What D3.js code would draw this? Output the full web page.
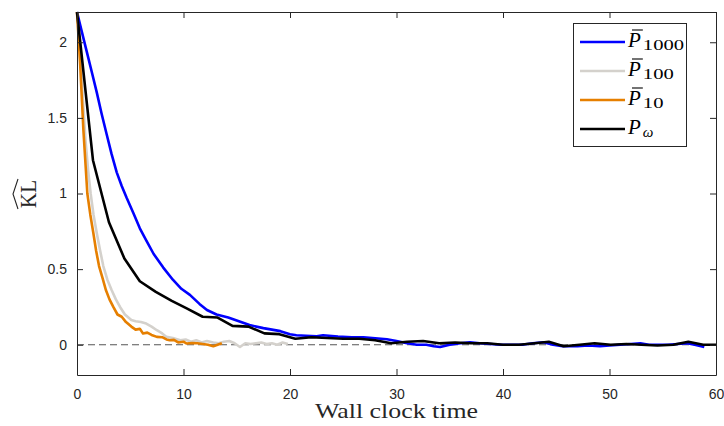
<!DOCTYPE html>
<html>
<head>
<meta charset="utf-8">
<script src="https://cdn.jsdelivr.net/npm/d3@7"></script>
<style>
  body { margin: 0; background: #fff; }
  .tick text { font-family: "Liberation Sans", Arial, sans-serif; font-size: 14px; fill: #262626; }
</style>
</head>
<body>
<svg class="chart"></svg>
<script>
const svgWidth = 724;
const svgHeight = 426;

// P_1000 (blue)
const blueT = [0, 0.45, 0.91, 1.4, 1.85, 2.3, 2.79, 3.25, 3.73, 4.2, 4.67, 5.3, 5.9, 6.5, 7.2, 8.1, 9.0, 9.8, 10.6, 11.5, 12.2, 13.1, 14.2, 15.2, 16.2, 17.5, 18.3, 19.1, 20.0, 20.6, 21.5, 22.5, 23.1, 24.5, 25.8, 26.9, 28.0, 29.1, 30.0, 31.0, 31.9, 32.8, 33.5, 34.1, 35.0, 36.0, 36.9, 37.8, 38.8, 39.8, 40.7, 41.8, 42.8, 43.8, 44.7, 45.6, 47.0, 48.0, 49.1, 50.0, 51.0, 52.0, 52.9, 53.7, 54.5, 55.5, 56.4, 57.3, 58.0, 58.9];
const blueV = [2.2, 2.07, 1.94, 1.8, 1.67, 1.53, 1.39, 1.26, 1.14, 1.05, 0.97, 0.87, 0.77, 0.69, 0.6, 0.51, 0.43, 0.37, 0.33, 0.27, 0.23, 0.2, 0.18, 0.155, 0.13, 0.11, 0.1, 0.09, 0.07, 0.063, 0.06, 0.056, 0.063, 0.055, 0.05, 0.05, 0.043, 0.036, 0.025, 0.01, 0.0, 0.0, -0.01, -0.015, 0.0, 0.01, 0.017, 0.01, 0.005, 0.0, 0.0, 0.0, 0.01, 0.017, 0.0, -0.01, -0.01, -0.005, -0.01, -0.005, 0.0, 0.005, 0.01, 0.0, 0.0, 0.0, 0.005, 0.01, 0.0, -0.015];

// P_100 (grey)
const greyT = [0, 0.4, 0.8, 1.05, 1.28, 1.55, 1.85, 2.15, 2.47, 2.85, 3.26, 3.65, 4.04, 4.5, 5.1, 5.5, 6.0, 6.5, 7.0, 7.5, 8.0, 8.4, 9.0, 9.7, 10.2, 10.7, 11.2, 11.7, 12.2, 12.8, 13.3, 13.8, 14.3, 14.8, 15.3, 15.8, 16.3, 16.8, 17.3, 17.8, 18.3, 18.8, 19.3, 19.8];
const greyV = [2.2, 1.8, 1.35, 1.15, 1.0, 0.86, 0.74, 0.63, 0.52, 0.43, 0.36, 0.3, 0.25, 0.2, 0.163, 0.155, 0.15, 0.14, 0.12, 0.096, 0.075, 0.052, 0.045, 0.03, 0.035, 0.02, 0.03, 0.015, 0.025, 0.015, 0.01, 0.02, 0.025, 0.01, -0.015, 0.01, 0.005, 0.01, 0.015, 0.005, 0.01, 0.0, 0.015, 0.005];

// P_10 (orange)
const orangeT = [0, 0.3, 0.6, 0.97, 1.25, 1.53, 1.8, 2.07, 2.4, 2.72, 3.05, 3.41, 3.8, 4.2, 4.6, 5.1, 5.5, 5.9, 6.2, 6.6, 7.0, 7.5, 8.0, 8.4, 8.7, 9.1, 9.5, 10.0, 10.3, 10.8, 11.3, 11.8, 12.3, 12.8, 13.2, 13.6];
const orangeV = [2.2, 1.85, 1.42, 1.0, 0.86, 0.74, 0.62, 0.52, 0.44, 0.36, 0.3, 0.25, 0.2, 0.185, 0.15, 0.12, 0.1, 0.105, 0.075, 0.08, 0.065, 0.052, 0.05, 0.035, 0.03, 0.032, 0.015, 0.02, 0.008, 0.012, 0.01, 0.005, 0.0, -0.01, 0.0, 0.01];

// P_omega (black)
const blackT = [0, 1.5, 3.0, 4.45, 5.9, 7.4, 8.9, 10.3, 11.8, 13.2, 14.6, 16.1, 17.6, 19.0, 20.5, 22.0, 23.5, 25.0, 26.5, 28.0, 29.5, 31.0, 32.5, 34.0, 35.5, 37.0, 38.5, 40.0, 41.5, 43.0, 44.3, 45.7, 47.2, 48.6, 50.1, 51.6, 53.0, 54.5, 56.0, 57.4, 58.8, 60.0];
const blackV = [2.2, 1.22, 0.81, 0.57, 0.42, 0.35, 0.29, 0.24, 0.185, 0.18, 0.125, 0.12, 0.075, 0.07, 0.04, 0.05, 0.045, 0.04, 0.04, 0.03, 0.01, 0.02, 0.025, 0.01, 0.015, 0.01, 0.01, 0.0, 0.0, 0.01, 0.02, -0.01, 0.0, 0.01, 0.0, 0.005, 0.0, -0.005, 0.0, 0.02, 0.0, 0.0];

const xTicks = [0, 10, 20, 30, 40, 50, 60];
const yTicks = [0, 0.5, 1, 1.5, 2];
const legendNames = ["1000", "100", "10", "\u03C9"];

const series = [
  { t: blueT, v: blueV, colour: "#0000ff" },
  { t: greyT, v: greyV, colour: "#d4d1cc" },
  { t: orangeT, v: orangeV, colour: "#e67f00" },
  { t: blackT, v: blackV, colour: "#000000" }
];

var margin = { top: 12, right: 8, bottom: 51, left: 77 };
var innerWidth = svgWidth - margin.left - margin.right;
var innerHeight = svgHeight - margin.top - margin.bottom;

const svg = d3.select('.chart')
  .attr("width", svgWidth)
  .attr("height", svgHeight);

const g = svg.append("g")
  .attr("transform", `translate(${margin.left},${margin.top})`);

var x = d3.scaleLinear().domain([0, 60]).range([0, innerWidth]);
var y = d3.scaleLinear().domain([-0.2, 2.2]).range([innerHeight, 0]);

// zero reference line
g.append("line")
  .attr("x1", x(0)).attr("x2", x(60))
  .attr("y1", y(0)).attr("y2", y(0))
  .attr("stroke", "#555")
  .attr("stroke-width", 1.2)
  .attr("stroke-dasharray", "7,4");

// curves
var line = d3.line()
  .x(function(d) { return x(d[0]); })
  .y(function(d) { return y(d[1]); });

series.forEach(function(s) {
  g.append("path")
    .datum(s.t.map(function(t, i) { return [t, s.v[i]]; }))
    .attr("fill", "none")
    .attr("stroke", s.colour)
    .attr("stroke-width", 2.6)
    .attr("stroke-linejoin", "round")
    .attr("d", line);
});

// axes, ticks pointing inward
function styleAxis(sel) {
  sel.selectAll(".domain").attr("stroke", "#262626");
  sel.selectAll(".tick line").attr("stroke", "#262626");
}
var fmt = function(d) { return String(d); };
g.append("g")
  .attr("transform", `translate(0,${innerHeight})`)
  .call(d3.axisBottom(x).tickValues(xTicks).tickSizeInner(-6).tickSizeOuter(0).tickPadding(14).tickFormat(fmt))
  .call(styleAxis);
g.append("g")
  .call(d3.axisTop(x).tickValues(xTicks).tickSizeInner(-6).tickSizeOuter(0))
  .call(styleAxis)
  .selectAll(".tick text").remove();
g.append("g")
  .call(d3.axisLeft(y).tickValues(yTicks).tickSizeInner(-6).tickSizeOuter(0).tickPadding(10).tickFormat(fmt))
  .call(styleAxis);
g.append("g")
  .attr("transform", `translate(${innerWidth},0)`)
  .call(d3.axisRight(y).tickValues(yTicks).tickSizeInner(-6).tickSizeOuter(0))
  .call(styleAxis)
  .selectAll(".tick text").remove();

// x label
svg.append("text")
  .attr("x", margin.left + innerWidth / 2)
  .attr("y", 418)
  .attr("text-anchor", "middle")
  .attr("textLength", 163)
  .attr("lengthAdjust", "spacingAndGlyphs")
  .style("font-family", "'Liberation Serif', serif")
  .style("font-size", "22px")
  .attr("fill", "#262626")
  .text("Wall clock time");

// y label: KL with a wide hat
const yl = svg.append("g").attr("transform", "translate(36,194) rotate(-90)");
yl.append("text")
  .attr("text-anchor", "middle")
  .attr("textLength", 28)
  .attr("lengthAdjust", "spacingAndGlyphs")
  .style("font-family", "'Liberation Serif', serif")
  .style("font-size", "23px")
  .attr("fill", "#262626")
  .text("KL");
yl.append("path")
  .attr("d", "M-15,-18 L0,-23 L15,-18")
  .attr("fill", "none")
  .attr("stroke", "#262626")
  .attr("stroke-width", 1.1);

// legend
const legend = svg.append("g");
legend.append("rect")
  .attr("x", 573.5).attr("y", 23.5)
  .attr("width", 113).attr("height", 123)
  .attr("fill", "#fff")
  .attr("stroke", "#262626")
  .attr("stroke-width", 1);

legendNames.forEach(function(name, i) {
  var ly = 42 + i * 29;
  legend.append("line")
    .attr("x1", 580).attr("x2", 625)
    .attr("y1", ly).attr("y2", ly)
    .attr("stroke", series[i].colour)
    .attr("stroke-width", 2.6);
  var p = legend.append("text")
    .attr("x", 628).attr("y", ly + 5)
    .style("font-family", "'Liberation Serif', serif")
    .style("font-style", "italic")
    .style("font-size", "21px")
    .attr("fill", "#000")
    .text("P");
  var w = p.node().getComputedTextLength();
  if (i < 3) {
    legend.append("line")
      .attr("x1", 632).attr("x2", 628 + w + 2)
      .attr("y1", ly - 12).attr("y2", ly - 12)
      .attr("stroke", "#000").attr("stroke-width", 1.1);
  }
  var sub = legend.append("text")
    .attr("x", 628 + w + 2).attr("y", ly + 8)
    .style("font-family", "'Liberation Serif', serif")
    .style("font-style", i === 3 ? "italic" : "normal")
    .style("font-size", "15px")
    .attr("fill", "#000")
    .text(name);
  if (i < 3) {
    sub.attr("textLength", name.length * 10.3).attr("lengthAdjust", "spacingAndGlyphs");
  }
});
</script>
</body>
</html>
